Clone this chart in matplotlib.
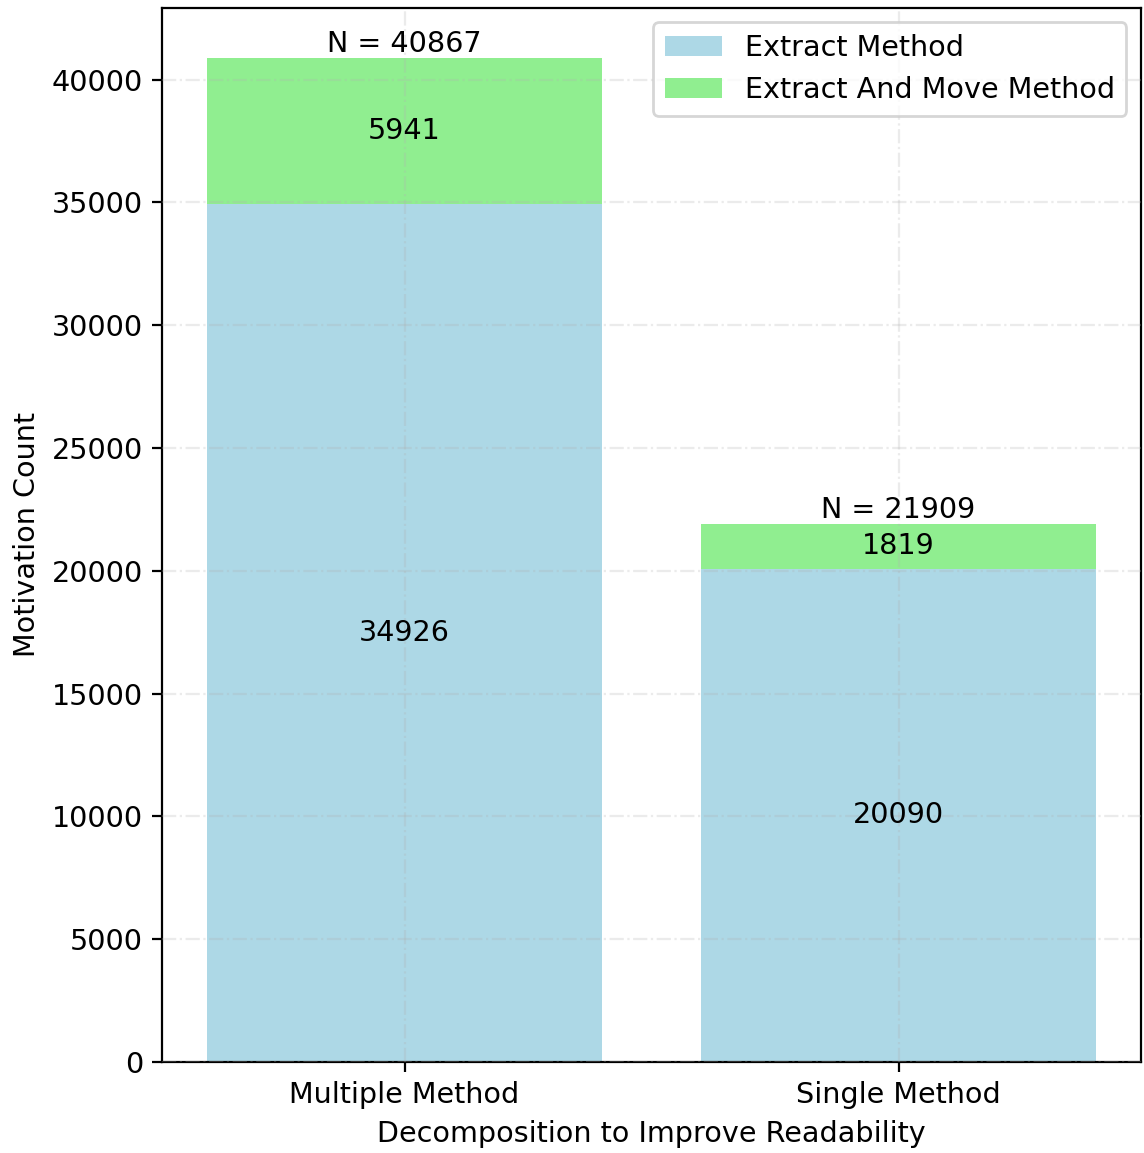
import matplotlib
matplotlib.use("Agg")
import matplotlib.pyplot as plt
import numpy as np

categories = ["Multiple Method", "Single Method"]
extract_method = [34926, 20090]
extract_and_move = [5941, 1819]

plt.rcParams["font.size"] = 10.3

fig, ax = plt.subplots(figsize=(5.72, 5.765), dpi=200)
x = np.arange(len(categories))
b1 = ax.bar(x, extract_method, width=0.8, color="lightblue", label="Extract Method")
b2 = ax.bar(x, extract_and_move, width=0.8, bottom=extract_method,
            color="lightgreen", label="Extract And Move Method")

# value in the middle of each segment, total on top
for i in range(len(categories)):
    ax.text(x[i], extract_method[i] / 2, str(extract_method[i]),
            ha="center", va="center")
    ax.text(x[i], extract_method[i] + extract_and_move[i] / 2, str(extract_and_move[i]),
            ha="center", va="center")
    total = extract_method[i] + extract_and_move[i]
    ax.annotate("N = %d" % total, (x[i], total), xytext=(0, 0),
                textcoords="offset points", ha="center", va="bottom")

ax.set_xticks(x)
ax.set_xticklabels(categories)
ax.set_xlabel("Decomposition to Improve Readability")
ax.set_ylabel("Motivation Count")
ax.set_ylim(0, max(np.add(extract_method, extract_and_move)) * 1.05)
ax.grid(True, linestyle="-.", alpha=0.25)
ax.set_axisbelow(False)
ax.legend(loc="upper right")

fig.subplots_adjust(left=0.142, right=0.997, top=0.993, bottom=0.079)
fig.savefig("out.png", dpi=200)
